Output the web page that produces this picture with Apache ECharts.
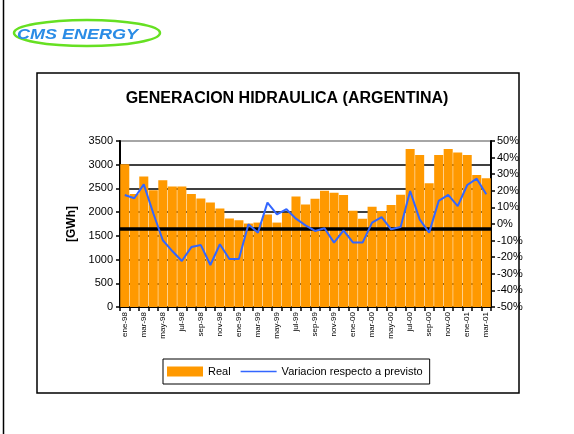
<!DOCTYPE html>
<html><head><meta charset="utf-8">
<script src="https://cdn.jsdelivr.net/npm/echarts@6/dist/echarts.min.js"></script>
<style>html,body{margin:0;padding:0;background:#fff}#c{width:574px;height:434px}</style>
</head><body><div id="c"></div>
<script>
const categories = ['ene-98','feb-98','mar-98','abr-98','may-98','jun-98','jul-98','ago-98','sep-98','oct-98','nov-98','dic-98',
  'ene-99','feb-99','mar-99','abr-99','may-99','jun-99','jul-99','ago-99','sep-99','oct-99','nov-99','dic-99',
  'ene-00','feb-00','mar-00','abr-00','may-00','jun-00','jul-00','ago-00','sep-00','oct-00','nov-00','dic-00',
  'ene-01','feb-01','mar-01'];
const realValues = [3010,2380,2750,2460,2670,2540,2540,2380,2290,2205,2075,1865,
  1830,1760,1780,1950,1780,1980,2330,2160,2280,2450,2410,2360,
  2030,1860,2115,2025,2150,2365,3330,3205,2610,3205,3330,3255,
  3205,2785,2715];
const variacionValues = [17.5,15.5,23.9,6.5,-9.8,-16.3,-22.3,-13.9,-12.7,-24.7,-12.2,-21.1,
  -21.1,-0.2,-5.2,12.9,5.8,8.9,3.2,-0.8,-4.2,-2.6,-11.2,-3.8,
  -11.2,-11.2,0.8,4.2,-3.2,-1.8,19.9,2.8,-5.2,13.9,17.5,10.8,
  23.5,27.3,17.9];
const referenceLevel = 1660;
const seriesNames = ['Real','Variacion respecto a previsto'];
const titleText = 'GENERACION HIDRAULICA (ARGENTINA)';

const FONT = '"Liberation Sans", Arial, sans-serif';
const chart = echarts.init(document.getElementById('c'), null, {renderer:'canvas'});
chart.setOption({
  animation:false,
  backgroundColor:'#fff',
  textStyle:{fontFamily:FONT, color:'#000'},
  title:{text:titleText, left:'center', top:91, padding:0,
    textStyle:{fontFamily:FONT, fontSize:16, fontWeight:'bold', color:'#000'}},
  grid:{left:120, right:83, top:141, bottom:127},
  legend:{left:163, top:359, itemWidth:36, itemHeight:10, itemGap:10,
    borderColor:'#000', borderWidth:1, padding:[7,7,7,4],
    textStyle:{fontFamily:FONT, fontSize:11, color:'#000'},
    data:[{name:seriesNames[0], icon:'rect'},
          {name:seriesNames[1], icon:'path://M0,0L40,0L40,1.4L0,1.4Z'}]},
  xAxis:{type:'category', data:categories, boundaryGap:true,
    axisLine:{lineStyle:{color:'#000', width:2}},
    axisTick:{show:true, interval:0, length:4, lineStyle:{color:'#000', width:1.5}},
    axisLabel:{interval:1, rotate:90, fontSize:8, color:'#000', margin:5, fontFamily:FONT},
    splitLine:{show:false}},
  yAxis:[
    {type:'value', min:0, max:3500, interval:500,
     name:'[GWh]', nameLocation:'middle', nameGap:22, nameRotate:90,
     nameTextStyle:{fontFamily:FONT, fontSize:12, fontWeight:'bold', color:'#000'},
     axisLine:{show:true, lineStyle:{color:'#000', width:2}},
     axisTick:{show:true, length:4, lineStyle:{color:'#000', width:1.5}},
     axisLabel:{fontSize:11, color:'#000', margin:7, fontFamily:FONT, formatter:function(v){return String(v);}},
     splitLine:{show:true, lineStyle:{color:['#000','#000','#000','#000','#000','#000','#000','#888'], width:1.5}}},
    {type:'value', min:-50, max:50, interval:10, position:'right',
     axisLine:{show:true, lineStyle:{color:'#000', width:2}},
     axisTick:{show:true, length:4, lineStyle:{color:'#000', width:1.5}},
     axisLabel:{fontSize:11, color:'#000', margin:6, formatter:'{value}%', fontFamily:FONT},
     splitLine:{show:false}}
  ],
  series:[
    {name:seriesNames[0], type:'bar', data:realValues, barCategoryGap:'5%',
     itemStyle:{color:'#FF9900'},
     markLine:{silent:true, symbol:'none', label:{show:false},
       lineStyle:{color:'#000', width:3.5, type:'solid'},
       data:[{yAxis:referenceLevel}]}},
    {name:seriesNames[1], type:'line', yAxisIndex:1, data:variacionValues,
     symbol:'none', lineStyle:{color:'#3366FF', width:2}, itemStyle:{color:'#3366FF'}, z:5}
  ],
  graphic:[
    {type:'rect', shape:{x:37, y:73, width:482, height:320}, style:{fill:'none', stroke:'#000', lineWidth:1.5}, silent:true},
    {type:'line', shape:{x1:3.5, y1:0, x2:3.5, y2:434}, style:{stroke:'#000', lineWidth:1.5}, silent:true},
    {type:'ellipse', shape:{cx:87, cy:33, rx:73, ry:13}, style:{fill:'none', stroke:'#66e022', lineWidth:2.5}, silent:true},
    {type:'text', x:17, y:35, scaleX:1.2, style:{text:'CMS ENERGY', fill:'#2a8ce6', font:'italic bold 15px "Liberation Sans", Arial, sans-serif', textVerticalAlign:'middle'}, silent:true}
  ]
});
</script></body></html>
